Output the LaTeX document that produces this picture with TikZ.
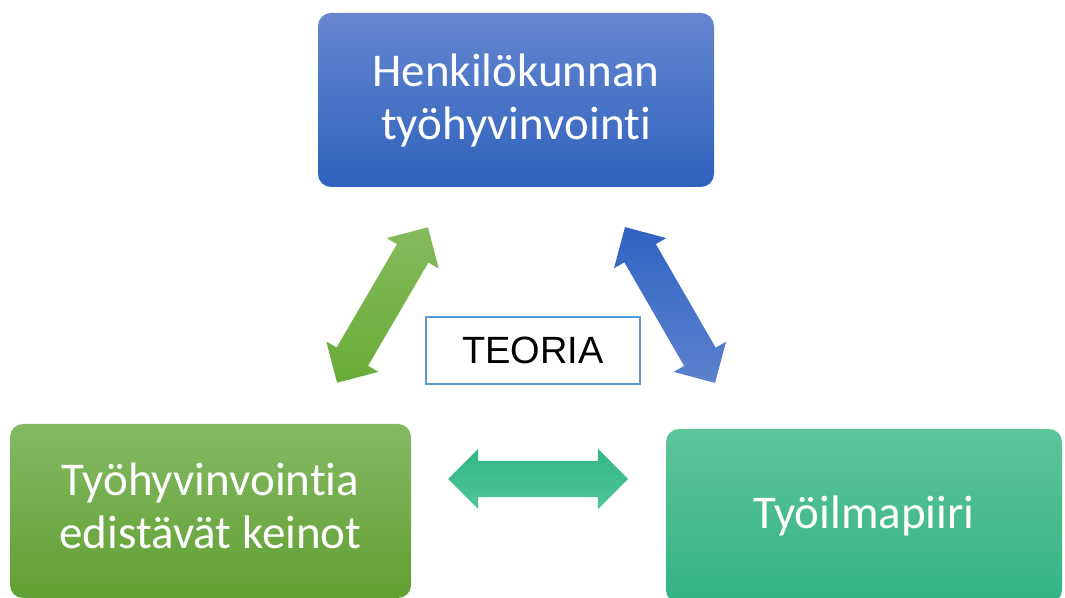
\documentclass[tikz,border=0pt]{standalone}
\usepackage{fontspec}
\setmainfont{Carlito}[Ligatures=NoCommon]
\newfontfamily\arialfont{Liberation Sans}
\usetikzlibrary{shapes.arrows}
\definecolor{bluetop}{HTML}{6587CF}
\definecolor{bluebot}{HTML}{2F61BD}
\definecolor{greentop}{HTML}{84B964}
\definecolor{greenbot}{HTML}{61A032}
\definecolor{greenlight}{HTML}{84BA5C}
\definecolor{greendark}{HTML}{68AD38}
\definecolor{bluelight}{HTML}{5C82CD}
\definecolor{bluedark}{HTML}{3163C4}
\definecolor{tealtop}{HTML}{5DC49B}
\definecolor{tealbot}{HTML}{33B383}
\definecolor{teallight}{HTML}{50C69B}
\definecolor{tealdark}{HTML}{33B584}
\definecolor{teoriaborder}{HTML}{5B9BD5}
\tikzset{
  box/.style={rounded corners=13pt, minimum width=#1, minimum height=174pt, inner sep=0pt,
    text=white, align=center, font=\fontsize{47}{53}\selectfont},
  darrow/.style={double arrow, minimum height=180pt, minimum width=60pt,
    double arrow head extend=12pt, double arrow tip angle=90, inner xsep=0pt, inner ysep=18pt},
}
\begin{document}
\begin{tikzpicture}[x=1pt,y=1pt]
\useasboundingbox (0,0) rectangle (1065,597);
\clip (0,0) rectangle (1065,597);
\node[box=396pt, top color=bluetop, bottom color=bluebot] (henk) at (516,497)
  {Henkilökunnan\\työhyvinvointi};
\node[box=401pt, top color=greentop, bottom color=greenbot] (keinot) at (210.5,86)
  {\raisebox{7pt}{\begin{tabular}{@{}c@{}}Työhyvinvointia\\edistävät keinot\end{tabular}}};
\node[box=396pt, top color=tealtop, bottom color=tealbot] (ilma) at (864,81)
  {Työilmapiiri};
\node[draw=teoriaborder, line width=2pt, minimum width=214pt, minimum height=67pt,
  inner sep=0pt, font=\arialfont\fontsize{38}{44}\selectfont] (teoria) at (533,246.5) {TEORIA};
\node[darrow, rotate=59.7, top color=greenlight, bottom color=greendark] (ga) at (382.5,292) {};
\node[darrow, rotate=120, top color=bluedark, bottom color=bluelight] (ba) at (670,292) {};
\node[darrow, top color=tealdark, bottom color=teallight] (ta) at (538,118) {};
\end{tikzpicture}
\end{document}
